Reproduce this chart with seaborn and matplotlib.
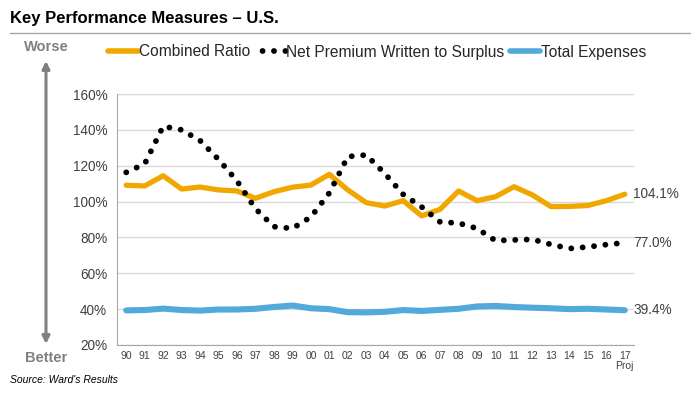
import numpy as np
import pandas as pd
import seaborn as sns
import matplotlib.pyplot as plt
from matplotlib.lines import Line2D

# data
years = ["90", "91", "92", "93", "94", "95", "96", "97", "98", "99",
         "00", "01", "02", "03", "04", "05", "06", "07", "08", "09",
         "10", "11", "12", "13", "14", "15", "16", "17\nProj"]
combined_ratio = [109.1, 108.7, 114.4, 107.0, 108.1, 106.5, 105.9, 101.8, 105.5, 108.0,
                  109.2, 115.2, 106.5, 99.4, 97.5, 100.5, 92.0, 95.7, 105.9, 100.5,
                  102.7, 108.3, 103.7, 97.2, 97.3, 97.8, 100.5, 104.1]
npw_surplus = [116.3, 121.0, 142.0, 140.0, 134.0, 123.5, 111.5, 96.0, 86.0, 85.0,
               91.4, 104.8, 125.1, 126.0, 115.7, 104.0, 97.0, 88.6, 88.0, 85.0,
               78.2, 78.6, 78.9, 76.1, 73.8, 74.7, 76.0, 77.0]
total_expenses = [39.3, 39.5, 40.3, 39.5, 39.2, 39.8, 39.8, 40.2, 41.2, 42.0,
                  40.5, 40.0, 38.3, 38.2, 38.5, 39.5, 39.0, 39.6, 40.2, 41.5,
                  41.8, 41.2, 40.8, 40.5, 40.0, 40.2, 39.8, 39.4]

orange = "#F0A800"
blue = "#52A9DC"
grey_txt = "#404040"
dots = (0, (0.01, 1.95))

sns.set_style("white")
plt.rcParams['font.family'] = ['Liberation Sans', 'DejaVu Sans']

df = pd.DataFrame({"pos": np.arange(len(years)),
                   "cr": combined_ratio, "npw": npw_surplus, "te": total_expenses})

fig = plt.figure(figsize=(7, 3.96), dpi=100)
ax = fig.add_axes([117 / 700, 1 - 345 / 396, (634 - 117) / 700, (345 - 94) / 396])

sns.lineplot(data=df, x="pos", y="te", ax=ax, color=blue, lw=4.4,
             solid_capstyle="round", solid_joinstyle="round")
sns.lineplot(data=df, x="pos", y="cr", ax=ax, color=orange, lw=3.8,
             solid_capstyle="round", solid_joinstyle="round")
sns.lineplot(data=df, x="pos", y="npw", ax=ax, color="black", lw=4.2,
             linestyle=dots, dash_capstyle="round")

ax.set_xlim(-0.5, len(years) - 0.5)
ax.set_ylim(20, 160)
ax.set_yticks(range(20, 161, 20))
ax.set_yticklabels([f"{v}%" for v in range(20, 161, 20)], fontsize=9.8, color=grey_txt)
ax.set_xticks(df["pos"])
ax.set_xticklabels(years, fontsize=7.5, color=grey_txt, linespacing=1.0)
ax.set_xticks(np.arange(-0.5, len(years), 1), minor=True)
ax.tick_params(axis="x", which="major", length=0, pad=4)
ax.tick_params(axis="x", which="minor", length=4, color="#a6a6a6", width=0.8)
ax.tick_params(axis="y", length=4, color="#a6a6a6", width=0.8, pad=3)
ax.set_xlabel("")
ax.set_ylabel("")
ax.grid(axis="y", color="#d9d9d9", lw=1)
for s in ["top", "right"]:
    ax.spines[s].set_visible(False)
ax.spines["left"].set_color("#a6a6a6")
ax.spines["bottom"].set_color("#a6a6a6")
ax.spines["left"].set_linewidth(0.8)
ax.spines["bottom"].set_linewidth(0.8)

# end labels
last = len(years) - 1
for vals, txt in [(combined_ratio, "104.1%"), (npw_surplus, "77.0%"), (total_expenses, "39.4%")]:
    ax.annotate(txt, (last, vals[-1]), xytext=(6, 0), textcoords="offset points",
                va="center", ha="left", fontsize=9.8, color=grey_txt, annotation_clip=False)

# legend (dot pattern shifted so a dot sits right before the label)
handles = [Line2D([], [], color=orange, lw=4),
           Line2D([], [], color="black", lw=4.2, linestyle=(0.67, (0.01, 1.95)),
                  dash_capstyle="round"),
           Line2D([], [], color=blue, lw=4, solid_capstyle="round")]
fig.legend(handles, ["Combined Ratio", "Net Premium Written to Surplus", "Total Expenses"],
           loc="center", bbox_to_anchor=(377 / 700, 1 - 52 / 396), ncol=3, frameon=False,
           fontsize=11.2, handlelength=1.95, handletextpad=0.05, columnspacing=0.35,
           labelcolor="#262626", borderpad=0)

# title, rule, side arrow, source
fig.text(10 / 700, 1 - 18 / 396, "Key Performance Measures \u2013 U.S.", fontsize=12,
         fontweight="bold", va="center", ha="left", color="black")
fig.add_artist(Line2D([10 / 700, 690 / 700], [1 - 33 / 396, 1 - 33 / 396],
                      color="#a6a6a6", lw=1))
fig.text(46 / 700, 1 - 47 / 396, "Worse", fontsize=10.5, fontweight="bold",
         color="#808080", ha="center", va="center")
fig.text(46 / 700, 1 - 358 / 396, "Better", fontsize=10.5, fontweight="bold",
         color="#808080", ha="center", va="center")
fig.add_artist(plt.Annotation("", xy=(46 / 700, 1 - 61 / 396), xytext=(46 / 700, 1 - 344 / 396),
                              xycoords="figure fraction", textcoords="figure fraction",
                              arrowprops=dict(arrowstyle="<|-|>", color="#808080", lw=2.2,
                                              mutation_scale=11, shrinkA=0, shrinkB=0)))
fig.text(10 / 700, 1 - 380 / 396, "Source: Ward's Results", fontsize=7.5, style="italic",
         color="black", ha="left", va="center")

fig.savefig("out.png", dpi=100)
